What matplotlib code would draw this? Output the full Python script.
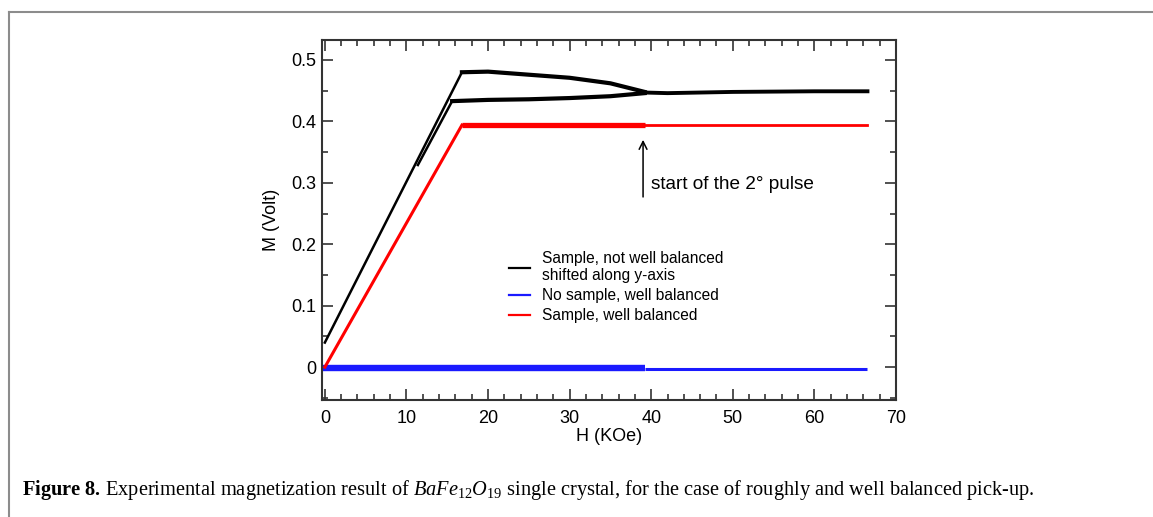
import matplotlib
matplotlib.use("Agg")
import matplotlib.pyplot as plt
from matplotlib.lines import Line2D
from matplotlib.ticker import MultipleLocator

plt.rcParams['font.family'] = ['Liberation Sans', 'DejaVu Sans']
plt.rcParams['mathtext.fontset'] = 'custom'
plt.rcParams['mathtext.rm'] = 'Liberation Serif'
plt.rcParams['mathtext.it'] = 'Liberation Serif:italic'
plt.rcParams['mathtext.bf'] = 'Liberation Serif:bold'

# ---- data ----
# black: sample, not well balanced (shifted along y)
h_black_rise = [0.0, 16.8]
m_black_rise = [0.040, 0.480]
h_black_top = [16.8, 20.0, 25.0, 30.0, 35.0, 39.2]
m_black_top = [0.480, 0.481, 0.476, 0.471, 0.462, 0.448]
h_black_ret = [11.4, 15.6]
m_black_ret = [0.329, 0.433]
h_black_low = [15.6, 20.0, 25.0, 30.0, 35.0, 39.2]
m_black_low = [0.433, 0.435, 0.436, 0.438, 0.441, 0.446]
h_black_p2 = [39.2, 42.0, 50.0, 60.0, 66.5]
m_black_p2 = [0.447, 0.446, 0.448, 0.449, 0.449]

# blue: no sample, well balanced
h_blue_p1 = [-0.3, 39.2]
m_blue_p1 = [-0.002, -0.002]
h_blue_p2 = [39.2, 66.5]
m_blue_p2 = [-0.003, -0.003]

# red: sample, well balanced
h_red_rise = [0.0, 16.8]
m_red_rise = [0.000, 0.394]
h_red_p1 = [16.8, 39.2]
m_red_p1 = [0.394, 0.394]
h_red_p2 = [39.2, 66.5]
m_red_p2 = [0.394, 0.394]

legend_labels = ["Sample, not well balanced\nshifted along y-axis",
                 "No sample, well balanced",
                 "Sample, well balanced"]
x_ticks = [0, 10, 20, 30, 40, 50, 60, 70]
y_ticks = [0, 0.1, 0.2, 0.3, 0.4, 0.5]
y_ticklabels = ["0", "0.1", "0.2", "0.3", "0.4", "0.5"]

# ---- figure ----
W, H = 1153, 517
fig = plt.figure(figsize=(W / 100, H / 100), dpi=100)
ax = fig.add_axes([322 / W, 1 - 400 / H, (896 - 322) / W, (400 - 40) / H])

# blue
ax.plot(h_blue_p1, m_blue_p1, color='#1a1aff', lw=4.6, solid_capstyle='butt')
ax.plot(h_blue_p2, m_blue_p2, color='#1a1aff', lw=2.2, solid_capstyle='butt')
# red
ax.plot(h_red_rise, m_red_rise, color='#ff0000', lw=2.2)
ax.plot(h_red_p1, m_red_p1, color='#ff0000', lw=3.8, solid_capstyle='butt')
ax.plot(h_red_p2, m_red_p2, color='#ff0000', lw=2.0)
# black
ax.plot(h_black_rise, m_black_rise, color='black', lw=1.8)
ax.plot(h_black_top, m_black_top, color='black', lw=3.0)
ax.plot(h_black_ret, m_black_ret, color='black', lw=1.8)
ax.plot(h_black_low, m_black_low, color='black', lw=3.0)
ax.plot(h_black_p2, m_black_p2, color='black', lw=2.8)

ax.set_xlim(-0.35, 70)
ax.set_ylim(-0.0535, 0.5325)
ax.set_xticks(x_ticks)
ax.set_yticks(y_ticks)
ax.set_yticklabels(y_ticklabels)
ax.xaxis.set_minor_locator(MultipleLocator(2))
ax.yaxis.set_minor_locator(MultipleLocator(0.05))
ax.tick_params(which='both', direction='in', top=True, right=True,
               labelsize=13, color='#333333', width=1.2)
ax.tick_params(which='major', length=8)
ax.tick_params(which='minor', length=4)
ax.tick_params(axis='x', pad=7)
ax.tick_params(axis='y', pad=4)
for s in ax.spines.values():
    s.set_linewidth(1.5)
    s.set_color('#333333')

ax.set_xlabel("H (KOe)", fontsize=13, labelpad=1)
ax.set_ylabel("M (Volt)", fontsize=13, labelpad=8)

handles = [Line2D([], [], color='black', lw=1.6),
           Line2D([], [], color='#1a1aff', lw=1.6),
           Line2D([], [], color='#ff0000', lw=1.6)]
ax.legend(handles, legend_labels, loc='upper left',
          bbox_to_anchor=((509 - 322) / (896 - 322), (400 - 251) / (400 - 40)),
          frameon=False, fontsize=11.2, handlelength=1.35, handletextpad=0.75,
          labelspacing=0.32, borderpad=0, borderaxespad=0)

# annotation
ax.annotate("", xy=(39.0, 0.370), xytext=(39.0, 0.277),
            arrowprops=dict(arrowstyle='->', color='black', lw=1.1,
                            mutation_scale=14, shrinkA=0, shrinkB=0))
ax.text(40.0, 0.298, "start of the 2\u00b0 pulse", fontsize=13.7, va='center', ha='left')

# page frame lines
fig.add_artist(Line2D([9 / W, 1.0], [1 - 12 / H, 1 - 12 / H], color='#8c8c8c', lw=1.5))
fig.add_artist(Line2D([9 / W, 9 / W], [0.0, 1 - 12 / H], color='#8c8c8c', lw=1.5))

# caption
cap = fig.text(22 / W, 1 - 490 / H,
               r"$\mathbf{Figure\ 8.}\,$Experimental magnetization result of "
               r"$\mathit{BaFe}_{12}\mathit{O}_{19}$ single crystal, for the case of "
               r"roughly and well balanced pick-up.",
               family='Liberation Serif', fontsize=12.5, va='center', ha='left')
fig.canvas.draw()
bb = cap.get_window_extent()
target = 1036 - 22
cap.set_fontsize(12.5 * target / bb.width)

fig.savefig("out.png", dpi=100)
